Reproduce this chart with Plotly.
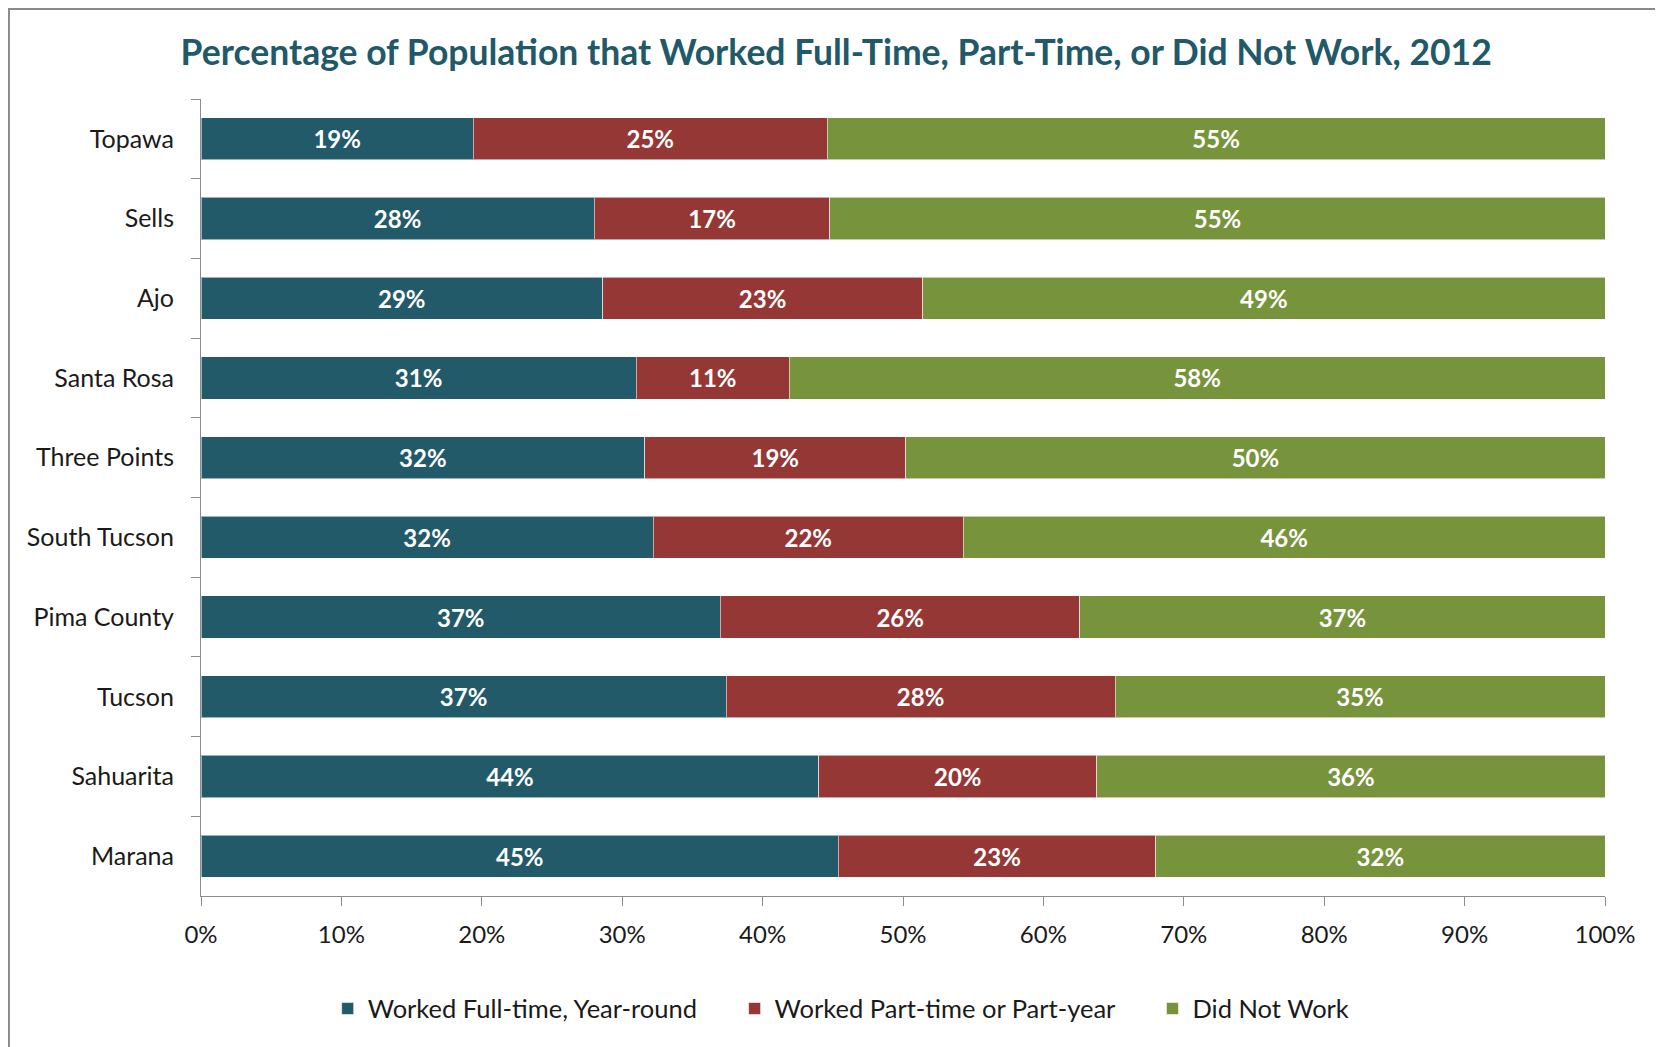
import plotly.graph_objects as go

# places, listed top to bottom as in the chart
places = ["Topawa", "Sells", "Ajo", "Santa Rosa", "Three Points",
          "South Tucson", "Pima County", "Tucson", "Sahuarita", "Marana"]

# shares in percent
full_time = [19.4, 28.0, 28.6, 31.0, 31.6, 32.2, 37.0, 37.4, 44.0, 45.4]
part_time = [25.2, 16.8, 22.8, 10.9, 18.6, 22.1, 25.6, 27.7, 19.8, 22.6]
not_work = [55.4, 55.2, 48.6, 58.1, 49.8, 45.7, 37.4, 34.9, 36.2, 32.0]

series_names = ["Worked Full-time, Year-round", "Worked Part-time or Part-year", "Did Not Work"]
series_colors = ["#235A69", "#953735", "#77933C"]

x_ticks = [0, 10, 20, 30, 40, 50, 60, 70, 80, 90, 100]
x_tick_labels = [str(v) + "%" for v in x_ticks]

fig = go.Figure()

pad = "\u00a0" * 5  # spacing between legend entries
for i, (name, vals, col) in enumerate(zip(series_names, [full_time, part_time, not_work], series_colors)):
    fig.add_trace(go.Bar(
        y=places,
        x=vals,
        name=name + (pad if i < 2 else ""),
        orientation="h",
        marker=dict(color=col, line=dict(color="rgba(255,255,255,0.55)", width=1)),
        texttemplate="%{x:.0f}%",
        textposition="inside",
        insidetextanchor="middle",
        textfont=dict(family="Lato", size=24, color="white", weight="bold"),
    ))

# the page body has an 8px margin, so positions below are 8px less than on screen
fig.update_layout(
    barmode="stack",
    bargap=0.47,
    width=1663,
    height=1047,
    margin=dict(l=193, r=66, t=91, b=159, autoexpand=False),
    paper_bgcolor="white",
    plot_bgcolor="white",
    font=dict(family="Lato", size=24, color="#1a1a1a"),
    title=dict(
        text="Percentage of Population that Worked Full-Time, Part-Time, or Did Not Work, 2012",
        font=dict(family="Lato", size=35.5, color="#215968", weight="bold"),
        xref="container", x=0.498, xanchor="center",
        yref="container", y=0.957, yanchor="middle",
    ),
    legend=dict(
        orientation="h",
        xref="container", x=0.501, xanchor="center",
        yref="container", y=0.044, yanchor="middle",
        font=dict(family="Lato", size=25.5, color="#1a1a1a"),
        itemwidth=30,
        traceorder="normal",
    ),
    showlegend=True,
)

fig.update_xaxes(
    range=[0, 100],
    tickvals=x_ticks,
    ticktext=x_tick_labels,
    showgrid=False,
    zeroline=False,
    showline=True,
    linecolor="#8c8c8c",
    linewidth=1,
    ticks="outside",
    ticklen=9,
    tickcolor="#8c8c8c",
    ticklabelstandoff=8,
    tickfont=dict(family="Lato", size=24, color="#1a1a1a"),
)
fig.update_yaxes(
    autorange="reversed",
    showgrid=False,
    showline=True,
    linecolor="#8c8c8c",
    linewidth=1,
    ticks="outside",
    tickson="boundaries",
    ticklen=9,
    tickcolor="#8c8c8c",
    ticklabelstandoff=21,
    tickfont=dict(family="Lato", size=25, color="#1a1a1a"),
)

# outer chart border (left and top edges visible)
fig.add_shape(type="rect", xref="paper", yref="paper",
              x0=-0.1368, x1=1.3, y0=-0.5, y1=1.113,
              line=dict(color="#8a8a8a", width=2), fillcolor="rgba(0,0,0,0)")

fig.write_html("out.html")
